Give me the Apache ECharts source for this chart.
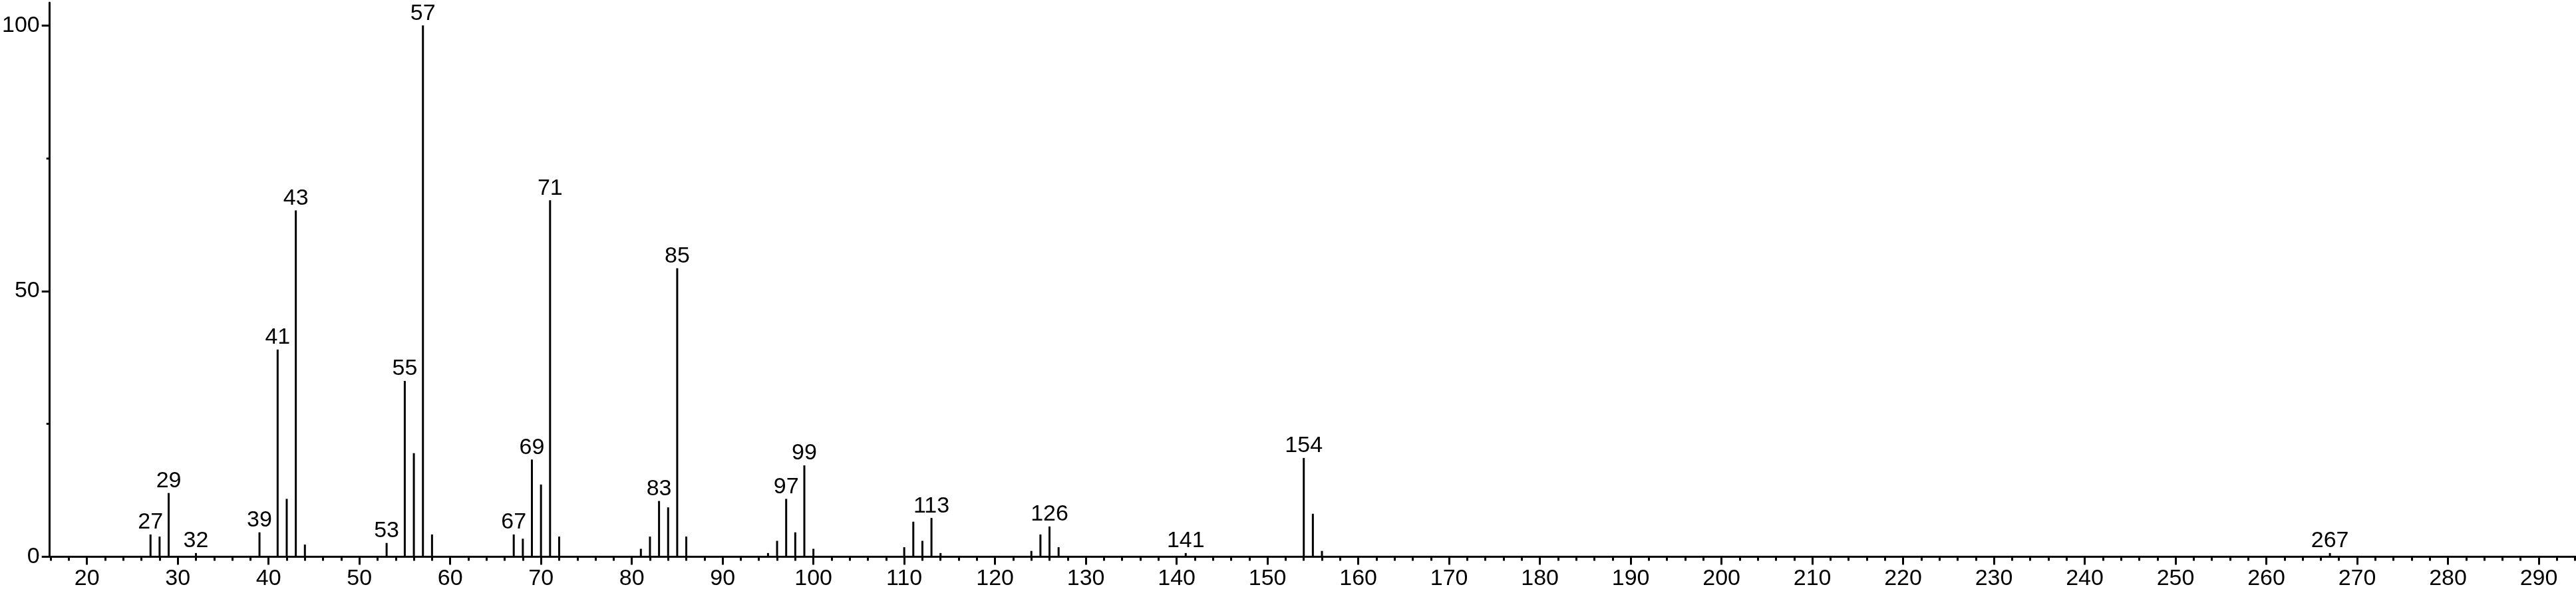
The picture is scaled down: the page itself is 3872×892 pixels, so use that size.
<!DOCTYPE html>
<html>
<head>
<meta charset="utf-8">
<script src="https://cdn.jsdelivr.net/npm/echarts@6/dist/echarts.min.js"></script>
<style>
html,body{margin:0;padding:0;background:#fff;}
#chart{width:3872px;height:892px;}
</style>
</head>
<body>
<div id="chart"></div>
<script>
// m/z values of the peaks
const mz = [27, 28, 29, 32, 39, 41, 42, 43, 44, 53, 55, 56, 57, 58,
            67, 68, 69, 70, 71, 72, 81, 82, 83, 84, 85, 86,
            95, 96, 97, 98, 99, 100, 110, 111, 112, 113, 114,
            124, 125, 126, 127, 141, 154, 155, 156, 267];
// relative intensities (%)
const intensity = [4.2, 3.8, 12.0, 0.7, 4.6, 39.0, 10.9, 65.2, 2.3, 2.6, 33.1, 19.5, 100, 4.2,
                   4.2, 3.4, 18.3, 13.6, 67.1, 3.8, 1.5, 3.8, 10.5, 9.3, 54.3, 3.8,
                   0.7, 3.0, 10.9, 4.6, 17.2, 1.5, 1.8, 6.6, 3.0, 7.3, 0.7,
                   1.1, 4.2, 5.7, 1.8, 0.7, 18.6, 8.1, 1.1, 0.7];
// peaks that carry an m/z label
const labeledPeaks = [27, 29, 32, 39, 41, 43, 53, 55, 57, 67, 69, 71, 83, 85, 97, 99, 113, 126, 141, 154, 267];
// axis ticks
const xMajorTicks = [20, 30, 40, 50, 60, 70, 80, 90, 100, 110, 120, 130, 140, 150, 160, 170, 180, 190, 200, 210, 220, 230, 240, 250, 260, 270, 280, 290];
const xMinorTicks = [];
for (let v = 16; v <= 294; v += 2) { if (v % 10 !== 0) xMinorTicks.push(v); }
const yMajorTicks = [0, 50, 100];
const yMinorTicks = [25, 75];

const FONT = 'Liberation Sans, Arial, sans-serif';
const data = mz.map((m, i) => ({
  value: [m, intensity[i]],
  label: { show: labeledPeaks.includes(m) }
}));

const XMIN = 15.9, XMAX = 294.1, YMAX = 104.3;
const chart = echarts.init(document.getElementById('chart'), null, {renderer: 'canvas'});
chart.setOption({
  animation: false,
  backgroundColor: '#ffffff',
  grid: { left: 69, right: 0, top: 4, bottom: 54.5, containLabel: false },
  xAxis: [
    {
      type: 'value', min: XMIN, max: XMAX, position: 'bottom',
      splitLine: { show: false },
      axisLine: { show: true, lineStyle: { color: '#000', width: 3 } },
      axisTick: { show: true, customValues: xMajorTicks, length: 12, lineStyle: { color: '#000', width: 3 } },
      axisLabel: { show: true, customValues: xMajorTicks, color: '#000', fontSize: 34, fontFamily: FONT, margin: 16 }
    },
    {
      type: 'value', min: XMIN, max: XMAX, position: 'bottom',
      splitLine: { show: false },
      axisLine: { show: false },
      axisTick: { show: true, customValues: xMinorTicks, length: 6, lineStyle: { color: '#000', width: 3 } },
      axisLabel: { show: false }
    }
  ],
  yAxis: [
    {
      type: 'value', min: 0, max: YMAX, position: 'left',
      splitLine: { show: false },
      axisLine: { show: true, lineStyle: { color: '#000', width: 3 } },
      axisTick: { show: true, customValues: yMajorTicks, length: 12, lineStyle: { color: '#000', width: 3 } },
      axisLabel: { show: true, customValues: yMajorTicks, color: '#000', fontSize: 34, fontFamily: FONT, margin: 15 }
    },
    {
      type: 'value', min: 0, max: YMAX, position: 'left',
      splitLine: { show: false },
      axisLine: { show: false },
      axisTick: { show: true, customValues: yMinorTicks, length: 5, lineStyle: { color: '#000', width: 3 } },
      axisLabel: { show: false }
    }
  ],
  series: [{
    type: 'bar',
    xAxisIndex: 0, yAxisIndex: 0,
    barWidth: 3,
    itemStyle: { color: '#000' },
    label: {
      position: 'top', distance: 1, color: '#000', fontSize: 34, fontFamily: FONT,
      formatter: p => String(p.value[0])
    },
    data: data
  }]
});
</script>
</body>
</html>
